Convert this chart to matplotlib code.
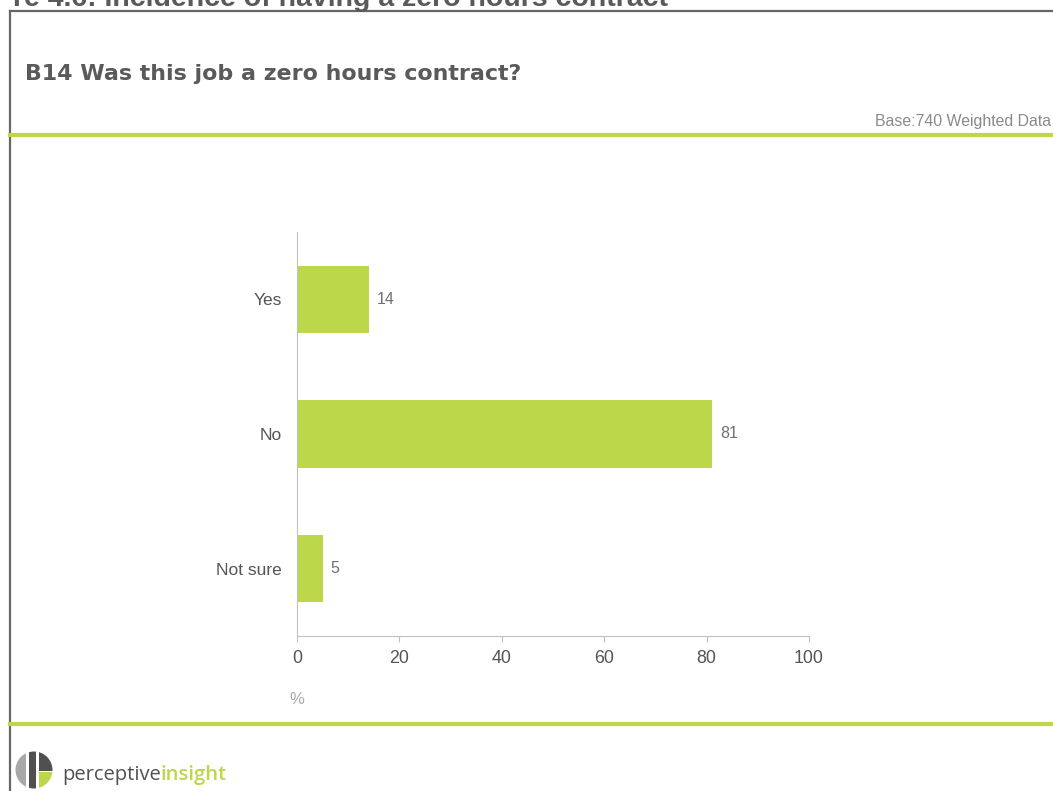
import matplotlib.pyplot as plt
from matplotlib.patches import Ellipse, Rectangle
from matplotlib.lines import Line2D

categories = ["Yes", "No", "Not sure"]
values = [14, 81, 5]
xticks = [0, 20, 40, 60, 80, 100]

GREEN = "#bcd74a"
W, H = 1053, 791

plt.rcParams['font.family'] = ['Liberation Sans', 'DejaVu Sans']

fig = plt.figure(figsize=(W / 100, H / 100), dpi=100)
fig.patch.set_facecolor("white")


def px(x, y):
    return x / W, 1 - y / H


# frame lines
fig.add_artist(Line2D([10 / W, 1], [1 - 11 / H] * 2, color="#666666", lw=1.6))
fig.add_artist(Line2D([10 / W] * 2, [0, 1 - 11 / H], color="#666666", lw=1.6))
fig.add_artist(Line2D([10 / W, 1], [1 - 135 / H] * 2, color=GREEN, lw=3))
fig.add_artist(Line2D([10 / W, 1], [1 - 724 / H] * 2, color=GREEN, lw=3))

# clipped figure caption at the very top
fig.text(*px(668, 6), "re 4.6: Incidence of having a zero hours contract",
         ha="right", va="baseline", fontsize=20.5, fontweight="bold", color="#5a5a5a")

fig.text(*px(25, 80), "B14 Was this job a zero hours contract?",
         ha="left", va="baseline", fontsize=15.9, fontweight="bold",
         color="#5a5a5a", family=["DejaVu Sans"])
fig.text(*px(1051, 126), "Base:740 Weighted Data", ha="right", va="baseline",
         fontsize=11.4, color="#8a8a8a")

ax = fig.add_axes([297 / W, 1 - 636 / H, (809 - 297) / W, (636 - 232) / H])
ypos = list(range(len(categories)))
bars = ax.barh(ypos, values, height=0.5, color=GREEN)
ax.set_xlim(0, 100)
ax.set_ylim(2.5, -0.5)
ax.set_yticks(ypos)
ax.set_yticklabels(categories)
ax.set_xticks(xticks)
for s in ["top", "right"]:
    ax.spines[s].set_visible(False)
for s in ["left", "bottom"]:
    ax.spines[s].set_color("#c0c0c0")
ax.tick_params(axis="y", length=0, pad=11, labelsize=12.5, labelcolor="#555555")
ax.tick_params(axis="x", length=4, color="#c0c0c0", pad=6, labelsize=12.8,
               labelcolor="#555555")
for b, v in zip(bars, values):
    ax.text(v + 1.6, b.get_y() + b.get_height() / 2, str(v), va="center",
            ha="left", fontsize=11.5, color="#707070")

fig.text(*px(297, 704), "%", ha="center", va="baseline", fontsize=12, color="#aaaaaa")

# logo: round badge made of vertical stripes
badge = Ellipse(px(34, 770), 37 / W, 37 / H, transform=fig.transFigure,
                facecolor="none", edgecolor="none")
fig.add_artist(badge)
stripes = [
    (15, 26, 745, 795, "#a8a8a8"),
    (29, 36, 745, 795, "#505050"),
    (39, 54, 745, 771, "#505050"),
    (39, 54, 772, 795, GREEN),
]
for x0, x1, y0, y1, c in stripes:
    r = Rectangle(px(x0, y1), (x1 - x0) / W, (y1 - y0) / H,
                  transform=fig.transFigure, facecolor=c, edgecolor="none")
    fig.add_artist(r)
    r.set_clip_path(badge)

t1 = fig.text(*px(62, 780), "perceptive", ha="left", va="baseline", fontsize=14.5,
              color="#505050", family=["Open Sans"])
fig.canvas.draw()
bb = t1.get_window_extent()
fig.text(bb.x1 / W, 1 - 780 / H, "insight", ha="left", va="baseline", fontsize=14.5,
         color=GREEN, fontweight="semibold", family=["Open Sans"])

fig.savefig("out.png", dpi=100)
